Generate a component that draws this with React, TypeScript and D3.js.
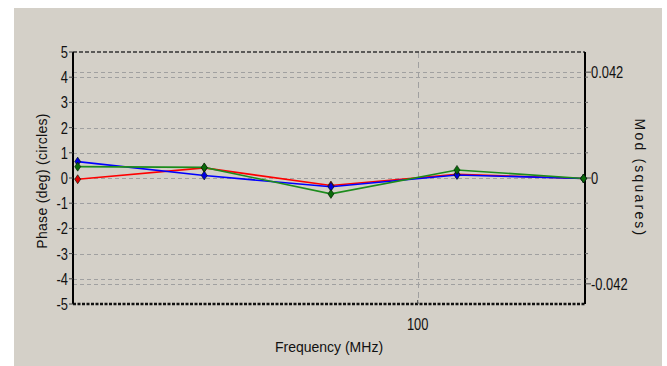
import React, { useRef, useEffect } from "react";
import * as d3 from "d3";

// frequencies in MHz (log axis)
const freqs = [40.5, 56.7, 79.4, 111, 155.4];
const redPhase = [-0.05, 0.4, -0.3, 0.15, -0.02];
const bluePhase = [0.65, 0.1, -0.35, 0.12, -0.02];
const greenPhase = [0.45, 0.42, -0.63, 0.32, -0.02];
const phaseTicks = [5, 4, 3, 2, 1, 0, -1, -2, -3, -4, -5];
const modLabels = [0.042, 0, -0.042];
const modMinor = [0.04, 0.03, 0.02, 0.01, -0.01, -0.02, -0.03, -0.04];

const W = 667, H = 366;
const L = 73, R = 585, T = 52, B = 304;

const App = () => {
  const ref = useRef(null);

  useEffect(() => {
    const svg = d3.select(ref.current);
    svg.selectAll("*").remove();

    const x = d3.scaleLog().domain([40, 156]).range([L, R]);
    const y = d3.scaleLinear().domain([-5, 5]).range([B, T]);
    const y2 = d3.scaleLinear().domain([-0.05, 0.05]).range([B, T]);
    const font = "Arial, 'Liberation Sans', sans-serif";
    const sx = 0.76; // narrow tick font

    svg.append("rect").attr("x", 14).attr("y", 8).attr("width", 648).attr("height", 358).attr("fill", "#d4d0c8");

    // grid
    const grid = svg.append("g");
    grid.selectAll("line.h").data(phaseTicks.filter(d => d > -5 && d < 5)).enter()
      .append("line")
      .attr("x1", L).attr("x2", R)
      .attr("y1", d => Math.round(y(d)) + 0.5).attr("y2", d => Math.round(y(d)) + 0.5)
      .attr("stroke", "#a0a0a0").attr("stroke-dasharray", "4,3");
    grid.selectAll("line.m").data(modLabels.filter(d => d !== 0)).enter()
      .append("line")
      .attr("x1", L).attr("x2", R)
      .attr("y1", d => Math.round(y2(d)) + 0.5).attr("y2", d => Math.round(y2(d)) + 0.5)
      .attr("stroke", "#a0a0a0").attr("stroke-dasharray", "4,3");
    grid.append("line")
      .attr("x1", Math.round(x(100)) + 0.5).attr("x2", Math.round(x(100)) + 0.5)
      .attr("y1", T).attr("y2", B)
      .attr("stroke", "#a0a0a0").attr("stroke-dasharray", "6,4");

    // frame
    svg.append("line").attr("x1", L).attr("x2", R).attr("y1", T).attr("y2", T)
      .attr("stroke", "#333").attr("stroke-width", 1.5).attr("stroke-dasharray", "4,2");
    svg.append("line").attr("x1", L).attr("x2", R).attr("y1", B).attr("y2", B)
      .attr("stroke", "#111").attr("stroke-width", 2.5).attr("stroke-dasharray", "3,1.5");
    svg.append("line").attr("x1", L).attr("x2", L).attr("y1", T).attr("y2", B)
      .attr("stroke", "#000").attr("stroke-width", 2);
    svg.append("line").attr("x1", R).attr("x2", R).attr("y1", T).attr("y2", B)
      .attr("stroke", "#000").attr("stroke-width", 2);

    // left ticks
    const lt = svg.append("g");
    lt.selectAll("line").data(phaseTicks).enter().append("line")
      .attr("x1", L - 4).attr("x2", L)
      .attr("y1", d => y(d)).attr("y2", d => y(d)).attr("stroke", "#444");
    lt.selectAll("text").data(phaseTicks).enter().append("text")
      .attr("transform", d => `translate(${L - 5},${y(d) + 6}) scale(${sx},1)`)
      .attr("text-anchor", "end").attr("font-family", font).attr("font-size", 17)
      .attr("fill", "#111").text(d => d);

    // right ticks
    const rt = svg.append("g");
    rt.selectAll("line.minor").data(modMinor).enter().append("line")
      .attr("x1", R).attr("x2", R + 3)
      .attr("y1", d => y2(d)).attr("y2", d => y2(d)).attr("stroke", "#666");
    rt.selectAll("line.major").data(modLabels).enter().append("line")
      .attr("x1", R).attr("x2", R + 6)
      .attr("y1", d => y2(d)).attr("y2", d => y2(d)).attr("stroke", "#444");
    rt.selectAll("text").data(modLabels).enter().append("text")
      .attr("transform", d => `translate(${R + 6},${y2(d) + 6}) scale(${sx},1)`)
      .attr("font-family", font).attr("font-size", 17)
      .attr("fill", "#111").text(d => (d === 0 ? "0" : d3.format(".3f")(d).replace("−", "-")));

    // bottom tick
    svg.append("line").attr("x1", x(100)).attr("x2", x(100)).attr("y1", B - 4).attr("y2", B)
      .attr("stroke", "#444");
    svg.append("text").attr("transform", `translate(${x(100)},330) scale(${sx},1)`)
      .attr("text-anchor", "middle")
      .attr("font-family", font).attr("font-size", 17).attr("fill", "#111").text("100");

    // axis titles
    svg.append("text").attr("x", (L + R) / 2).attr("y", 352).attr("text-anchor", "middle")
      .attr("font-family", font).attr("font-size", 14).attr("fill", "#111").text("Frequency (MHz)");
    svg.append("text").attr("transform", `translate(47,181) rotate(-90)`)
      .attr("text-anchor", "middle").attr("font-family", font).attr("font-size", 14)
      .attr("letter-spacing", 0.3).attr("fill", "#111").text("Phase (deg) (circles)");
    svg.append("text").attr("transform", `translate(635,178) rotate(90)`)
      .attr("text-anchor", "middle").attr("font-family", font).attr("font-size", 14)
      .attr("letter-spacing", 2.2).attr("fill", "#111").text("Mod (squares)");

    // series
    const series = [
      { vals: redPhase, color: "#ff0000", fill: "#e00000" },
      { vals: bluePhase, color: "#0000ff", fill: "#0000e0" },
      { vals: greenPhase, color: "#1c8c1c", fill: "#0a6a0a" },
    ];
    const line = d3.line().x(d => x(d[0])).y(d => y(d[1]));
    series.forEach(s => {
      const pts = freqs.map((f, i) => [f, s.vals[i]]);
      svg.append("path").attr("d", line(pts)).attr("fill", "none")
        .attr("stroke", s.color).attr("stroke-width", 1.6);
    });
    series.forEach(s => {
      svg.append("g").selectAll("path").data(freqs.map((f, i) => [f, s.vals[i]])).enter()
        .append("path")
        .attr("d", d => {
          const cx = x(d[0]), cy = y(d[1]);
          return `M${cx},${cy - 4.5}L${cx + 3},${cy}L${cx},${cy + 4.5}L${cx - 3},${cy}Z`;
        })
        .attr("fill", s.fill).attr("stroke", "#001800").attr("stroke-width", 0.6);
    });
  }, []);

  return (
    <svg ref={ref} width={W} height={H} style={{ position: "absolute", left: 0, top: 0 }} />
  );
};

export default App;
